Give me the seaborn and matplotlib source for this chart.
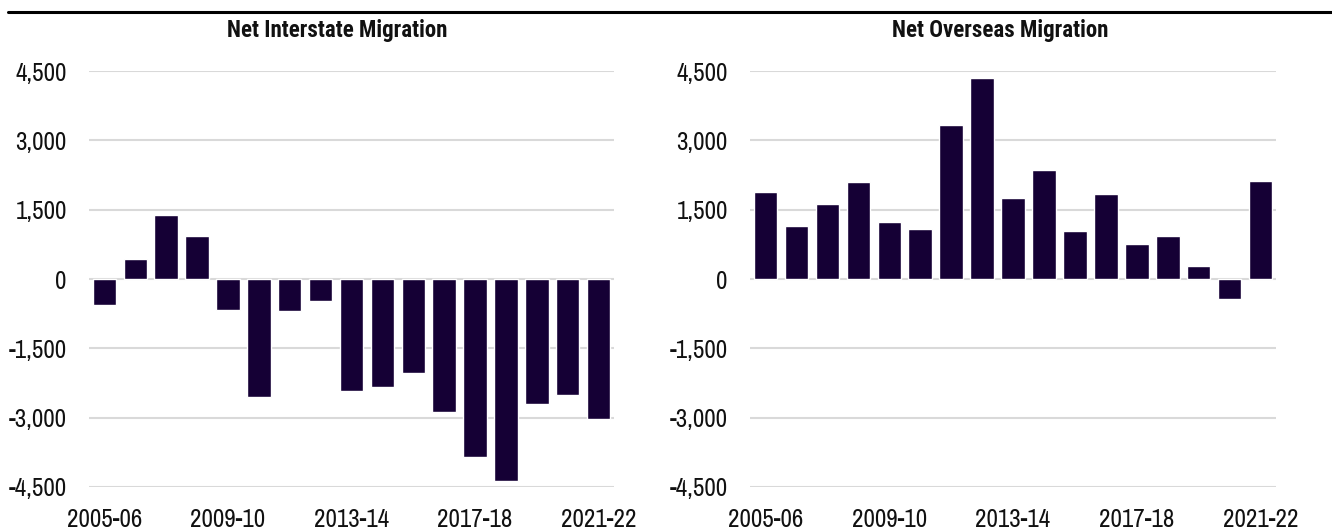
import matplotlib
matplotlib.use("Agg")
import matplotlib.pyplot as plt
from matplotlib.lines import Line2D
from matplotlib.ticker import FuncFormatter
import pandas as pd
import seaborn as sns

# --- DATA ---
years = ['2005-06', '2006-07', '2007-08', '2008-09', '2009-10', '2010-11',
         '2011-12', '2012-13', '2013-14', '2014-15', '2015-16', '2016-17',
         '2017-18', '2018-19', '2019-20', '2020-21', '2021-22']
interstate = [-560, 430, 1380, 920, -660, -2550, -700, -480, -2430, -2345,
              -2030, -2875, -3845, -4380, -2700, -2505, -3020]
overseas = [1875, 1150, 1620, 2095, 1230, 1090, 3325, 4345, 1745, 2355,
            1045, 1840, 755, 920, 280, -425, 2110]
titles = ['Net Interstate Migration', 'Net Overseas Migration']
yticks = [-4500, -3000, -1500, 0, 1500, 3000, 4500]
shown_years = ['2005-06', '2009-10', '2013-14', '2017-18', '2021-22']

bar_color = '#150035'

sns.set_theme(style='white')
plt.rcParams['font.family'] = ['Archivo Narrow', 'Liberation Sans', 'DejaVu Sans']
title_font = ['Roboto Condensed', 'Sofia Sans Condensed', 'Archivo Narrow', 'Liberation Sans']

fig = plt.figure(figsize=(13.32, 5.32), dpi=100)
ax1 = fig.add_axes([0.0668, 0.0846, 0.3942, 0.7819])
ax2 = fig.add_axes([0.5631, 0.0846, 0.3949, 0.7819])

for ax, vals, title, cx in zip([ax1, ax2], [interstate, overseas], titles, [0.253, 0.751]):
    df = pd.DataFrame({'year': years, 'value': vals})
    sns.barplot(data=df, x='year', y='value', color=bar_color, width=0.76,
                saturation=1, ax=ax, zorder=3)
    ax.set_ylim(-4500, 4500)
    ax.set_xlim(-0.5, len(years) - 0.5)
    ax.set_yticks(yticks)
    ax.yaxis.set_major_formatter(FuncFormatter(lambda v, p: f'{int(v):,}'))
    ax.set_xticks([years.index(y) for y in shown_years])
    ax.set_xticklabels(shown_years)
    ax.tick_params(axis='both', length=0, labelsize=18, colors='#111111')
    ax.tick_params(axis='y', pad=16)
    ax.tick_params(axis='x', pad=15)
    ax.grid(axis='y', color='#d9d9d9', linewidth=1.5, zorder=0)
    ax.set_axisbelow(True)
    for s in ax.spines.values():
        s.set_visible(False)
    ax.set_xlabel('')
    ax.set_ylabel('')
    # titles are centred on each half of the figure
    fig.text(cx, 0.942, title, fontsize=16.5, fontweight='bold', color='#111111',
             ha='center', va='center', family=title_font)

# top rule
fig.add_artist(Line2D([0.006, 1.0], [0.977, 0.977], color='black', linewidth=2.2,
                      transform=fig.transFigure))

fig.savefig('out.png', dpi=100)
